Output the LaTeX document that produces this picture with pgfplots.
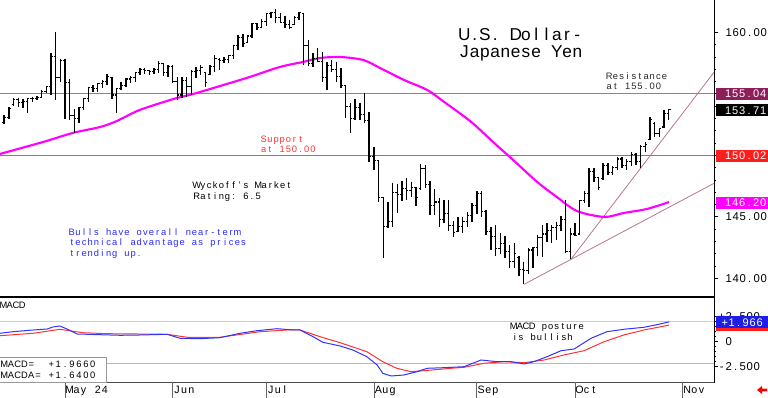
\documentclass[border=0pt]{standalone}
\usepackage{pgfplots}
\pgfplotsset{compat=1.18}
\usepackage{pgfplotstable}
\usepackage{fontspec}
\setmainfont{Liberation Sans}
\makeatletter
\newcommand\cells[2]{\begingroup\def\cw{#1}\cells@#2\relax\endgroup}
\def\cells@#1{\ifx#1\relax\else\makebox[\cw][c]{#1}\expandafter\cells@\fi}
\makeatother
\definecolor{maline}{RGB}{255,0,255}
\definecolor{resline}{RGB}{200,100,150}
\definecolor{resbox}{RGB}{140,30,90}
\definecolor{supline}{RGB}{255,70,70}
\definecolor{supbox}{RGB}{255,30,30}
\definecolor{trend}{RGB}{185,115,150}
\definecolor{mblue}{RGB}{50,50,255}
\definecolor{mred}{RGB}{255,50,50}
\definecolor{mpink}{RGB}{255,185,185}
\definecolor{mlblue}{RGB}{175,175,255}
\definecolor{txtblue}{RGB}{40,40,255}
\definecolor{txtred}{RGB}{255,50,50}
\definecolor{bluebox}{RGB}{30,30,230}
\pgfdeclareplotmark{otick}{\pgfpathmoveto{\pgfqpoint{-1.4pt}{0pt}}\pgfpathlineto{\pgfqpoint{0pt}{0pt}}\pgfusepathqstroke}
\pgfdeclareplotmark{ctick}{\pgfpathmoveto{\pgfqpoint{0pt}{0pt}}\pgfpathlineto{\pgfqpoint{1.4pt}{0pt}}\pgfusepathqstroke}
\pgfplotstableread{
d o h l c
-13 152.70 153.28 152.55 153.10
-12 153.10 153.93 152.95 153.80
-11 154.10 154.66 154.01 154.50
-10 154.50 154.66 153.93 154.30
-9 154.30 154.58 153.85 154.40
-8 154.40 154.66 153.44 154.60
-7 154.60 154.74 154.34 154.60
-6 154.60 154.83 154.50 154.70
-5 154.70 155.31 154.66 155.20
-4 155.20 155.64 155.07 155.60
-3 155.60 158.32 154.91 158.00
-2 158.00 160.03 154.50 156.30
-1 156.30 157.83 155.96 157.70
0 157.70 157.83 152.95 155.90
1 155.90 156.21 152.87 153.20
2 153.20 153.77 151.82 153.00
3 153.00 153.93 152.63 153.90
4 153.90 154.66 153.69 154.60
5 154.60 155.56 154.34 155.50
6 155.50 155.72 155.15 155.40
7 155.40 155.88 155.15 155.80
8 155.80 156.13 155.48 156.00
9 156.00 156.61 155.72 156.40
10 156.30 156.37 154.58 154.90
11 154.90 155.48 153.44 155.40
12 155.40 155.96 155.31 155.70
13 155.70 156.29 155.56 156.20
14 156.20 156.45 155.88 156.30
15 156.30 156.78 155.96 156.70
16 156.70 157.10 156.53 157.00
17 157.00 157.10 156.61 156.90
18 156.90 156.94 156.53 156.80
19 156.80 157.10 156.61 157.00
20 157.00 157.67 156.69 157.50
21 157.50 157.51 156.45 156.70
22 156.70 157.35 156.37 157.20
23 157.20 157.35 155.88 156.00
24 156.00 156.37 154.50 154.90
25 154.90 156.37 154.66 156.10
26 156.10 156.37 154.74 155.60
27 155.60 156.94 154.91 156.80
28 156.80 157.18 156.29 156.90
29 156.90 157.35 156.53 157.10
30 156.70 156.78 155.56 155.90
31 156.60 157.35 156.53 157.20
32 157.20 158.16 156.78 157.90
33 157.80 157.91 156.94 157.70
34 157.70 157.99 157.51 157.80
35 157.80 158.16 157.51 158.10
36 158.10 158.97 157.83 158.90
37 158.90 159.78 158.57 159.60
38 159.60 159.87 158.81 159.10
39 159.20 159.78 159.13 159.70
40 159.70 160.76 159.54 160.70
41 160.70 160.76 160.19 160.40
42 160.40 161.09 160.35 160.90
43 160.90 161.57 160.52 161.50
44 161.50 161.65 161.17 161.60
45 161.60 161.90 160.76 161.20
46 161.20 161.57 160.76 160.80
47 160.80 161.33 160.35 160.60
48 160.60 161.00 160.27 160.40
49 160.60 161.33 160.60 161.20
50 161.20 161.65 161.00 161.60
51 161.50 161.57 157.35 158.90
52 158.90 159.38 157.26 157.50
53 157.50 158.32 157.18 157.90
54 157.90 158.73 157.59 157.60
55 157.60 158.40 155.96 156.30
56 156.30 157.59 155.31 157.30
57 157.30 157.75 156.78 157.00
58 157.00 157.59 155.96 156.40
59 156.40 157.10 155.48 155.70
60 155.70 155.72 153.04 154.00
61 154.00 154.26 151.82 153.00
62 153.00 154.58 152.87 153.90
63 153.90 154.26 152.87 153.30
64 153.30 155.07 152.63 152.80
65 152.80 153.52 149.46 149.90
66 149.90 150.68 148.81 149.60
67 149.60 149.62 146.21 146.60
68 146.60 146.61 141.65 144.20
69 144.20 146.21 144.09 144.60
70 144.60 147.75 144.17 147.00
71 147.00 147.67 145.31 146.80
72 146.80 147.91 146.29 147.30
73 147.30 148.16 146.37 147.10
74 147.10 147.83 146.61 147.40
75 147.40 147.43 145.88 146.60
76 147.30 149.29 147.18 148.90
77 148.90 149.21 147.35 147.60
78 147.60 147.91 145.15 145.90
79 145.90 147.26 145.15 146.20
80 146.20 146.53 144.17 144.80
81 144.80 146.37 144.50 145.30
82 145.30 146.37 143.85 144.30
83 144.30 144.66 143.36 143.70
84 143.80 144.99 143.77 144.20
85 144.20 144.99 143.69 144.60
86 144.60 145.39 144.17 145.10
87 145.10 146.13 144.58 145.90
88 145.90 147.10 145.23 146.90
89 146.90 147.10 144.99 145.40
90 145.40 145.56 143.52 143.80
91 143.80 144.17 142.30 143.40
92 143.40 144.34 141.82 142.40
93 142.40 143.69 141.98 142.80
94 142.80 143.44 141.65 142.20
95 142.20 142.71 140.84 141.40
96 141.40 142.87 140.84 142.00
97 141.70 141.82 140.19 140.70
98 140.70 141.33 139.54 140.60
99 140.60 142.47 140.35 142.30
100 142.30 142.55 140.84 142.50
101 142.50 143.52 141.82 143.30
102 143.30 144.34 141.74 143.60
103 143.60 144.50 142.95 143.90
104 143.90 144.34 142.87 144.10
105 144.10 144.58 143.12 144.30
106 144.30 145.07 143.85 144.80
107 144.80 146.37 142.06 142.20
108 142.20 144.09 141.57 143.60
109 143.60 144.50 143.44 143.50
110 143.60 146.37 143.52 146.30
111 146.30 147.10 146.13 146.90
112 146.90 148.97 145.80 148.70
113 148.70 148.97 147.83 148.20
114 148.20 148.24 147.18 147.40
115 148.10 149.37 147.99 149.20
116 149.20 149.37 148.40 148.60
117 148.60 149.13 148.40 149.00
118 149.00 149.87 148.81 149.70
119 149.70 149.87 148.97 149.20
120 149.20 149.70 148.81 149.50
121 149.50 150.27 149.13 150.10
122 150.10 150.19 149.21 149.50
123 149.50 150.84 148.97 150.70
124 150.70 151.08 150.27 150.90
125 151.30 153.12 151.25 152.90
126 152.60 152.71 151.49 151.80
127 151.80 152.22 151.49 152.20
128 152.30 153.69 152.22 153.40
129 153.40 153.77 152.87 153.71
}\ohlc
\newcommand\sm{\fontsize{7pt}{8pt}\selectfont}
\newcommand\xl{\fontsize{8pt}{9pt}\selectfont}
\begin{document}
\begin{tikzpicture}
\useasboundingbox (0,0) rectangle (576pt,298.5pt);
% ---------- price panel ----------
\begin{axis}[at={(0pt,75.75pt)}, anchor=south west, scale only axis,
  width=535.5pt, height=222.75pt,
  xmin=-13.89, xmax=138.68, ymin=138.48, ymax=162.626,
  axis x line=none, axis y line*=right,
  y axis line style={-, black, line width=0.6pt},
  xtick=\empty,
  ytick={140,145,150,155,160},
  yticklabels={\cells{5.25pt}{~140.00},\cells{5.25pt}{~145.00},{},{},\cells{5.25pt}{~160.00}},
  minor y tick num=4,
  tick align=outside, major tick length=3pt, minor tick length=1.8pt,
  tick style={black, line width=0.5pt},
  yticklabel style={font=\fontsize{8.5pt}{9pt}\selectfont, anchor=west, inner sep=0pt},
]
\addplot[resline, line width=0.75pt] coordinates {(-13.89,155.04) (138.68,155.04)};
\addplot[supline, line width=0.75pt] coordinates {(-13.89,150.02) (138.68,150.02)};
\addplot[trend, line width=0.6pt] coordinates {(98.1,139.51) (138.68,147.72)};
\addplot[trend, line width=0.6pt] coordinates {(108.1,141.54) (138.68,156.75)};
\addplot[maline, line width=1.6pt, smooth, tension=0.5] coordinates {
 (-13.9,150.11) (-4.7,151.08) (1.7,151.82) (7.5,152.30) (11.1,152.79) (16.0,153.69)
 (23.9,154.66) (26.7,154.91) (32.5,155.56) (39.5,156.37) (45.9,157.18) (50.9,157.59)
 (54.5,157.91) (58.8,157.99) (63.7,157.75) (67.3,157.10) (72.4,156.13) (77.4,155.31)
 (81.0,154.34) (86.8,152.71) (91.7,151.00) (95.3,149.78) (100.9,147.83) (105.1,146.61)
 (109.4,145.47) (115.2,144.99) (119.4,145.31) (124.4,145.64) (129.1,146.20)};
\addplot[draw=none, mark=none, error bars/.cd, y dir=minus, y explicit,
  error mark=none, error bar style={draw=black, solid, line width=1.05pt}]
  table[x=d, y=h, y error minus expr=\thisrow{h}-\thisrow{l}] {\ohlc};
\addplot[black, only marks, mark=otick, mark options={line width=0.8pt}] table[x=d, y=o] {\ohlc};
\addplot[black, only marks, mark=ctick, mark options={line width=0.8pt}] table[x=d, y=c] {\ohlc};
\end{axis}
% ---------- MACD panel ----------
\begin{axis}[at={(0pt,11.25pt)}, anchor=south west, scale only axis,
  width=535.5pt, height=64.5pt,
  xmin=-13.89, xmax=138.68, ymin=-4.15, ymax=4.45,
  axis x line=none, axis y line*=right,
  y axis line style={-, black, line width=0.6pt},
  xtick=\empty,
  ytick={-2.5,0,2.5},
  yticklabels={\cells{5.25pt}{-2.500},\cells{5.25pt}{~0},\cells{5.25pt}{+2.500}},
  minor y tick num=4,
  tick align=outside, major tick length=3pt, minor tick length=1.8pt,
  tick style={black, line width=0.5pt},
  yticklabel style={font=\fontsize{8.5pt}{9pt}\selectfont, anchor=west, inner sep=0pt},
]
\addplot[mpink, line width=0.6pt] coordinates {(-13.89,1.966) (138.68,1.966)};
\addplot[mlblue, line width=0.6pt] coordinates {(-13.89,-2.15) (138.68,-2.15)};
\addplot[mred, line width=0.75pt] coordinates {
 (-13.9,0.58) (-6.8,0.82) (-1.1,1.22) (3.8,0.88) (9.0,0.78) (21.8,0.72) (26.1,0.42)
 (33.1,0.42) (41.7,0.98) (47.4,1.15) (50.2,1.15) (54.5,0.48) (58.8,-0.12) (64.5,-1.02)
 (67.9,-2.02) (70.9,-2.68) (73.9,-3.02) (76.7,-2.92) (82.5,-2.68) (85.3,-2.58) (89.5,-2.18)
 (93.8,-2.02) (98.1,-2.12) (102.4,-1.85) (106.6,-1.35) (110.9,-0.92) (115.2,-0.02)
 (119.4,0.65) (123.7,1.15) (129.1,1.64)};
\addplot[mblue, line width=0.75pt] coordinates {
 (-13.9,0.82) (-11.1,0.98) (-6.8,1.15) (-3.8,1.25) (-2.6,1.45) (-1.1,1.55) (0.4,1.25)
 (2.6,0.75) (7.5,0.68) (11.8,0.62) (16.0,0.65) (21.8,0.72) (24.6,0.32) (28.8,0.28)
 (33.1,0.38) (37.4,0.82) (41.0,1.08) (45.3,1.28) (48.7,1.15) (50.2,1.15) (53.0,0.48)
 (55.1,-0.08) (58.8,-0.45) (61.5,-0.85) (64.5,-1.52) (66.7,-2.35) (67.9,-3.18) (69.7,-3.45)
 (72.4,-3.35) (75.2,-3.02) (77.4,-2.68) (81.0,-2.62) (85.3,-2.52) (88.9,-1.85) (92.3,-2.02)
 (95.3,-2.02) (98.1,-2.25) (100.2,-2.02) (103.0,-1.52) (106.0,-0.92) (108.8,-0.75)
 (112.4,0.32) (115.8,0.98) (119.4,1.22) (123.7,1.42) (126.5,1.68) (129.1,1.966)};
\end{axis}
% ---------- decorations in pixel units ----------
\begin{scope}[x=0.75pt, y=-0.75pt, yshift=298.5pt]
\draw[black, line width=1.5pt] (0,297) -- (714,297);
\draw[black!70, line width=0.6pt] (0,382.5) -- (714,382.5);
\foreach \mx in {65,172.6,266.2,373.9,476.8,575.1,682.8}
  \draw[black!60, line width=0.6pt] (\mx,382.5) -- (\mx,398);
\node[anchor=base west, inner sep=0pt, font=\xl] at (65.7,393.5) {\cells{5.3pt}{May~24}};
\node[anchor=base west, inner sep=0pt, font=\xl] at (173.3,393.5) {\cells{5.3pt}{Jun}};
\node[anchor=base west, inner sep=0pt, font=\xl] at (267,393.5) {\cells{5.3pt}{Jul}};
\node[anchor=base west, inner sep=0pt, font=\xl] at (374.6,393.5) {\cells{5.3pt}{Aug}};
\node[anchor=base west, inner sep=0pt, font=\xl] at (477.5,393.5) {\cells{5.3pt}{Sep}};
\node[anchor=base west, inner sep=0pt, font=\xl] at (575.8,393.5) {\cells{5.3pt}{Oct}};
\node[anchor=base west, inner sep=0pt, font=\xl] at (683.5,393.5) {\cells{5.3pt}{Nov}};
% right boxes
\node[fill=resbox, text=white, anchor=west, minimum width=39pt, minimum height=9pt, inner sep=0pt, font=\fontsize{8.3pt}{9pt}\selectfont] at (716,94) {\cells{5.25pt}{~155.04}};
\node[fill=black, text=white, anchor=west, minimum width=39pt, minimum height=9pt, inner sep=0pt, font=\fontsize{8.3pt}{9pt}\selectfont] at (716,110.5) {\cells{5.25pt}{~153.71}};
\node[fill=supbox, text=white, anchor=west, minimum width=39pt, minimum height=9pt, inner sep=0pt, font=\fontsize{8.3pt}{9pt}\selectfont] at (716,156) {\cells{5.25pt}{~150.02}};
\node[fill=maline, text=white, anchor=west, minimum width=39pt, minimum height=9pt, inner sep=0pt, font=\fontsize{8.3pt}{9pt}\selectfont] at (716,203) {\cells{5.25pt}{~146.20}};
\fill[supbox] (716,319.5) rectangle (768,331);
\node[fill=bluebox, text=white, anchor=west, minimum width=39pt, minimum height=8.7pt, inner sep=0pt, font=\fontsize{8.3pt}{9pt}\selectfont] at (716,322.3) {\cells{5.25pt}{+1.966}};
% red arrow
\fill[red] (757,390) -- (762,386) -- (762,388.6) -- (767,388.6) -- (767,391.4) -- (762,391.4) -- (762,394) -- cycle;
% title
\node[anchor=base west, inner sep=0pt, font=\fontsize{12.9pt}{14pt}\selectfont] at (459,40.7) {\cells{7.7pt}{U.S.~Dollar-}};
\node[anchor=base west, inner sep=0pt, font=\fontsize{12.9pt}{14pt}\selectfont] at (459,57.5) {\cells{7.7pt}{Japanese~Yen}};
% annotations
\node[anchor=base west, inner sep=0pt, font=\sm, text=black!85] at (606,79.3) {\cells{4.6pt}{Resistance}};
\node[anchor=base west, inner sep=0pt, font=\sm, text=black!85] at (606,89.3) {\cells{4.6pt}{at~155.00}};
\node[anchor=base west, inner sep=0pt, font=\sm, text=txtred] at (260.5,142.7) {\cells{4.6pt}{Support}};
\node[anchor=base west, inner sep=0pt, font=\sm, text=txtred] at (260.5,153) {\cells{4.6pt}{at~150.00}};
\node[anchor=base west, inner sep=0pt, font=\sm] at (193.5,188.7) {\cells{4.6pt}{Wyckoff's~Market}};
\node[anchor=base west, inner sep=0pt, font=\sm] at (193.5,199.3) {\cells{4.6pt}{Rating:~6.5}};
\node[anchor=base west, inner sep=0pt, font=\sm, text=txtblue] at (68.5,235.3) {\cells{4.6pt}{Bulls~have~overall~near-term}};
\node[anchor=base west, inner sep=0pt, font=\sm, text=txtblue] at (68.5,246) {\cells{4.6pt}{technical~advantage~as~prices}};
\node[anchor=base west, inner sep=0pt, font=\sm, text=txtblue] at (68.5,256.5) {\cells{4.6pt}{trending~up.}};
\node[anchor=base west, inner sep=0pt, font=\sm] at (510.5,330) {\cells{4.6pt}{MACD~posture}};
\node[anchor=base west, inner sep=0pt, font=\sm] at (511.5,340.7) {\cells{4.6pt}{is~bullish}};
\node[anchor=base west, inner sep=0pt, font=\sm] at (0,309) {\cells{4.7pt}{MACD}};
% legend box
\filldraw[fill=white, draw=black!40, line width=0.6pt] (-2,357.5) rectangle (106,382.5);
\node[anchor=base west, inner sep=0pt, font=\sm] at (0.5,367.7) {\cells{5.1pt}{MACD=}};
\node[anchor=base west, inner sep=0pt, font=\sm] at (47.5,367.7) {\cells{5.2pt}{+1.9660}};
\node[anchor=base west, inner sep=0pt, font=\sm] at (0.5,378.5) {\cells{5.1pt}{MACDA=}};
\node[anchor=base west, inner sep=0pt, font=\sm] at (47.5,378.5) {\cells{5.2pt}{+1.6400}};
\end{scope}
\end{tikzpicture}
\end{document}
